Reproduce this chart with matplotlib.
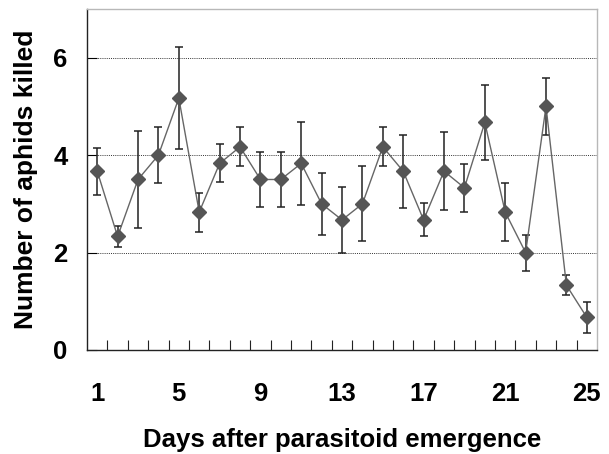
import numpy as np
import matplotlib
matplotlib.use("Agg")
import matplotlib.pyplot as plt

# dias e numero medio de afideos mortos
dias = list(range(1, 26))
media = [3.67, 2.33, 3.5, 4.0, 5.17, 2.83, 3.83, 4.17, 3.5, 3.5,
         3.83, 3.0, 2.67, 3.0, 4.17, 3.67, 2.67, 3.67, 3.33, 4.67,
         2.83, 2.0, 5.0, 1.33, 0.67]
erro = [0.48, 0.21, 1.0, 0.58, 1.04, 0.4, 0.39, 0.4, 0.57, 0.57,
        0.86, 0.63, 0.67, 0.77, 0.4, 0.75, 0.34, 0.8, 0.49, 0.76,
        0.6, 0.37, 0.58, 0.2, 0.32]
rotulos_x = [1, 5, 9, 13, 17, 21, 25]
rotulos_y = [0, 2, 4, 6]

plt.rcParams['font.family'] = ['Liberation Sans', 'DejaVu Sans']
plt.rcParams['font.weight'] = 'bold'

fig = plt.figure(figsize=(6.09, 4.54), dpi=100)
ax = fig.add_axes([0.1429, 0.2291, 0.8374, 0.7511])

ax.errorbar(dias, media, yerr=erro, fmt='none', ecolor='#222222',
            elinewidth=1.1, capsize=2.6, capthick=1.1, zorder=2)
ax.plot(dias, media, color='#666666', lw=1.0, marker='D', markersize=6.8,
        markerfacecolor='#555555', markeredgecolor='#555555', zorder=3)

ax.set_xlim(0.5, 25.5)
ax.set_ylim(0, 7)

ax.set_xticks(rotulos_x)
ax.set_xticklabels([str(d) for d in rotulos_x])
ax.set_xticks(np.arange(1.5, 25, 1.0), minor=True)
ax.tick_params(axis='x', which='major', length=0, pad=23, labelsize=18.5)
ax.tick_params(axis='x', which='minor', direction='in', length=7,
               width=0.8, color='#222222')

ax.set_yticks(rotulos_y)
ax.tick_params(axis='y', which='major', direction='in', length=7,
               width=0.8, pad=14, labelsize=18.5)

for v in rotulos_y[1:]:
    ax.axhline(v, color='#333333', lw=0.7, linestyle=(0, (1, 1.2)), zorder=1)

for lado in ['top', 'right']:
    ax.spines[lado].set_color('#b8b8b8')
    ax.spines[lado].set_linewidth(1.0)
for lado in ['left', 'bottom']:
    ax.spines[lado].set_color('#222222')
    ax.spines[lado].set_linewidth(1.0)

ax.set_xlabel('Days after parasitoid emergence', fontsize=18.5,
              fontweight='bold', labelpad=16)
ax.set_ylabel('Number of aphids killed', fontsize=19,
              fontweight='bold', labelpad=11)

fig.savefig('out.png', dpi=100)
